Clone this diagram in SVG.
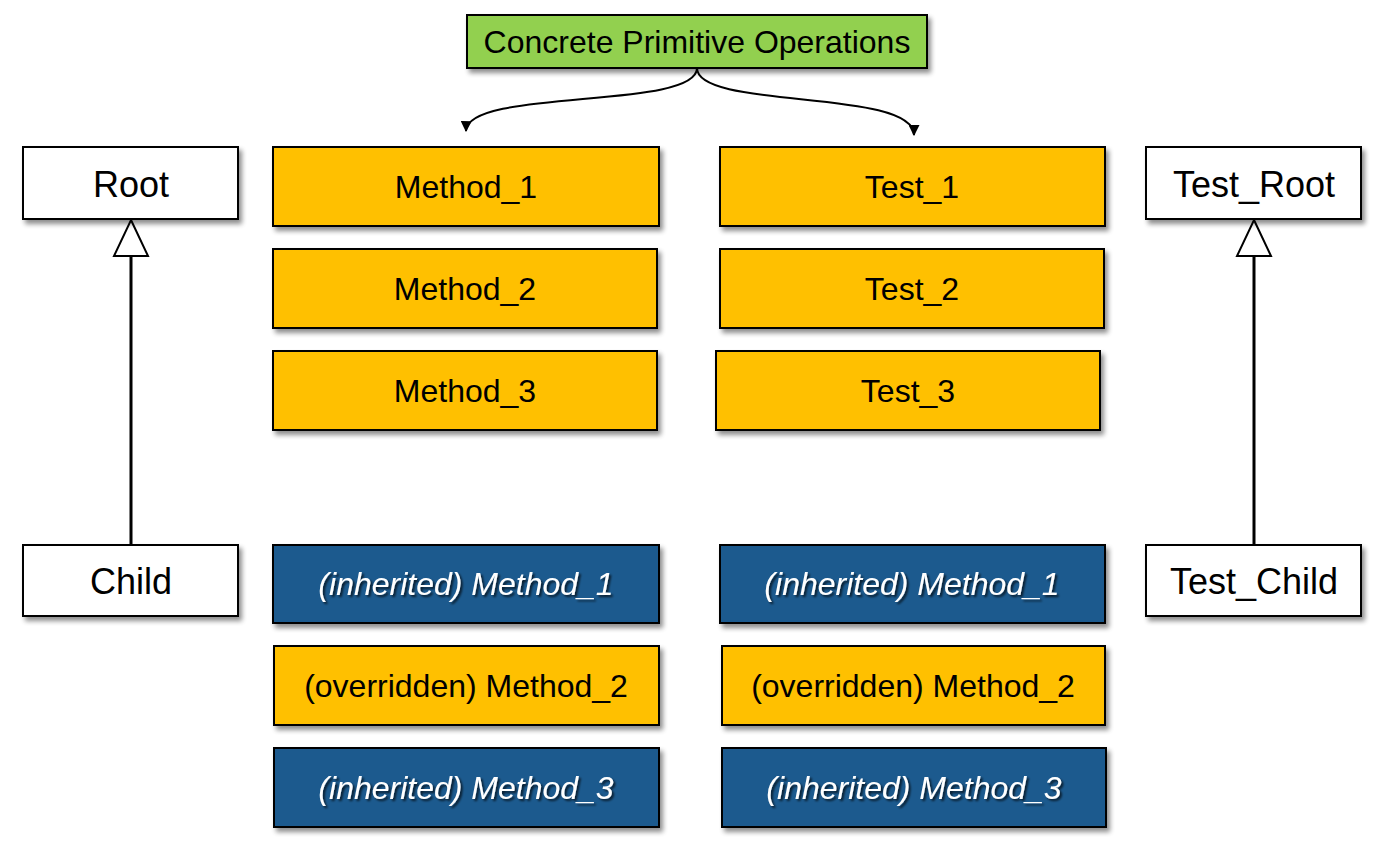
<svg xmlns="http://www.w3.org/2000/svg" width="1382" height="861" viewBox="0 0 1382 861">
<defs>
<filter id="sh" x="-10%" y="-20%" width="130%" height="150%">
<feGaussianBlur in="SourceAlpha" stdDeviation="2.5"/>
<feOffset dx="3" dy="4" result="b"/>
<feComponentTransfer><feFuncA type="linear" slope="0.45"/></feComponentTransfer>
<feMerge><feMergeNode/><feMergeNode in="SourceGraphic"/></feMerge>
</filter>
<filter id="tsh" x="-5%" y="-20%" width="110%" height="150%">
<feGaussianBlur in="SourceAlpha" stdDeviation="1"/>
<feOffset dx="1.5" dy="2" result="b"/>
<feComponentTransfer><feFuncA type="linear" slope="0.7"/></feComponentTransfer>
<feMerge><feMergeNode/><feMergeNode in="SourceGraphic"/></feMerge>
</filter>
<marker id="ah" viewBox="0 0 10 10" refX="9" refY="5" markerWidth="11" markerHeight="11" orient="auto" markerUnits="userSpaceOnUse">
<path d="M0,0 L10,5 L0,10 z" fill="#000"/>
</marker>
</defs>
<style>
.box{stroke:#000;stroke-width:2;filter:url(#sh)}
.w{fill:#fff}
.y{fill:#FFC000}
.g{fill:#92D050}
.b{fill:#1A5A8E}
text{font-family:"Liberation Sans",Arial,sans-serif;text-anchor:middle;dominant-baseline:central}
.t{font-size:32px;fill:#000}
.tl{font-size:36px;fill:#000}
.ti{font-size:32px;fill:#fff;font-style:italic;filter:url(#tsh)}
.c{fill:none;stroke:#000;stroke-width:2}
.c3{fill:none;stroke:#000;stroke-width:3}
.tri{fill:#fff;stroke:#000;stroke-width:2}
</style>
<rect width="1382" height="861" fill="#fff"/>
<g id="connectors">
<path class="c" d="M697,68 C697,110 467,88 466,131" marker-end="url(#ah)"/>
<path class="c" d="M697,68 C697,110 914,88 914,135" marker-end="url(#ah)"/>
<path class="c3" d="M131,545 L131,256"/>
<path class="tri" d="M131,220 L148,256 L114,256 z"/>
<path class="c3" d="M1254,545 L1254,256"/>
<path class="tri" d="M1254,220 L1271,256 L1237,256 z"/>
</g>
<g id="concrete"><rect class="box g" x="467" y="15" width="460" height="53"/><text class="t" x="697" y="42">Concrete Primitive Operations</text></g>
<g id="root"><rect class="box w" x="23" y="147" width="215" height="72"/><text class="tl" x="131" y="184">Root</text></g>
<g id="child"><rect class="box w" x="23" y="545" width="215" height="71"/><text class="tl" x="131" y="581">Child</text></g>
<g id="test_root"><rect class="box w" x="1146" y="147" width="215" height="72"/><text class="tl" x="1254" y="184">Test_Root</text></g>
<g id="test_child"><rect class="box w" x="1146" y="545" width="215" height="71"/><text class="tl" x="1254" y="581">Test_Child</text></g>
<g id="method_1"><rect class="box y" x="273" y="147" width="386" height="79"/><text class="t" x="466" y="187">Method_1</text></g>
<g id="method_2"><rect class="box y" x="273" y="249" width="384" height="79"/><text class="t" x="465" y="289">Method_2</text></g>
<g id="method_3"><rect class="box y" x="273" y="351" width="384" height="79"/><text class="t" x="465" y="391">Method_3</text></g>
<g id="test_1"><rect class="box y" x="720" y="147" width="385" height="79"/><text class="t" x="912" y="187">Test_1</text></g>
<g id="test_2"><rect class="box y" x="720" y="249" width="384" height="79"/><text class="t" x="912" y="289">Test_2</text></g>
<g id="test_3"><rect class="box y" x="716" y="351" width="384" height="79"/><text class="t" x="908" y="391">Test_3</text></g>
<g id="child_m1"><rect class="box b" x="273" y="545" width="386" height="78"/><text class="ti" x="466" y="584">(inherited) Method_1</text></g>
<g id="child_m2"><rect class="box y" x="274" y="646" width="385" height="79"/><text class="t" x="466" y="686">(overridden) Method_2</text></g>
<g id="child_m3"><rect class="box b" x="274" y="748" width="385" height="79"/><text class="ti" x="466" y="788">(inherited) Method_3</text></g>
<g id="tchild_m1"><rect class="box b" x="720" y="545" width="385" height="78"/><text class="ti" x="912" y="584">(inherited) Method_1</text></g>
<g id="tchild_m2"><rect class="box y" x="722" y="646" width="383" height="79"/><text class="t" x="913" y="686">(overridden) Method_2</text></g>
<g id="tchild_m3"><rect class="box b" x="722" y="748" width="384" height="79"/><text class="ti" x="914" y="788">(inherited) Method_3</text></g>
</svg>
